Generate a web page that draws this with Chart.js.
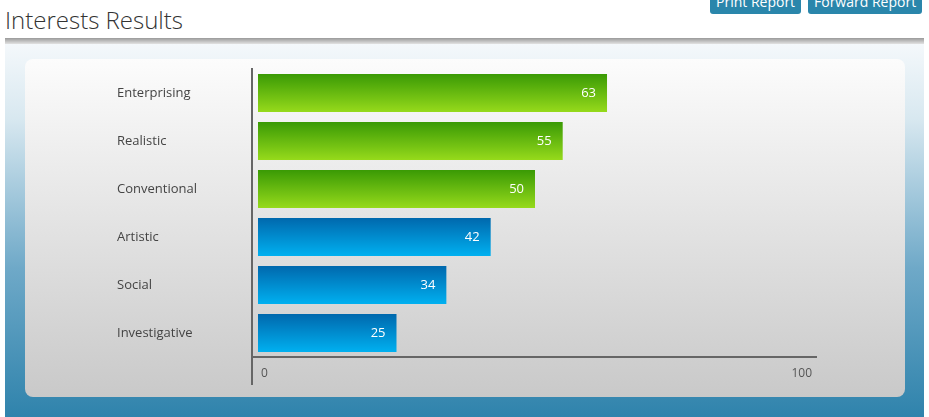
<!DOCTYPE html>
<html>
<head>
<meta charset="utf-8">
<script src="https://cdn.jsdelivr.net/npm/chart.js@4"></script>
<style>
  body { margin: 0; width: 929px; height: 417px; overflow: hidden; background: #fff; font-family: "Open Sans", sans-serif; position: relative; }
  h1 { position: absolute; left: 5px; top: 3px; margin: 0; font-weight: 300; font-size: 24px; color: #333; }
  .btn { position: absolute; top: -8px; height: 22px; background: #2a86ab; color: #fff; font-size: 14px; line-height: 20px; padding: 0 6px; border-radius: 3px; }
  .shade { position: absolute; left: 5px; right: 5px; top: 38px; height: 7px; background: linear-gradient(#9a9a9a, #eee); }
  .panel { position: absolute; left: 5px; right: 5px; top: 44px; bottom: 0; background: linear-gradient(#f4f8fb 0%, #d8e8f0 20%, #6fa9c8 60%, #2f83ac 100%); }
  .card { position: absolute; left: 25px; top: 59px; width: 880px; height: 338px; border-radius: 8px; background: linear-gradient(#fcfcfc, #c9c9c9); }
</style>
</head>
<body>
<h1>Interests Results</h1>
<div class="btn" style="left:710px">Print Report</div>
<div class="btn" style="left:808px">Forward Report</div>
<div class="shade"></div>
<div class="panel"></div>
<div class="card"></div>
<div style="position:absolute;left:25px;top:59px;width:880px;height:338px"><canvas id="chart"></canvas></div>
<script>
const categories = ["Enterprising", "Realistic", "Conventional", "Artistic", "Social", "Investigative"];
const scores = [63, 55, 50, 42, 34, 25];
const groups = ["green", "green", "green", "blue", "blue", "blue"];
const axisTicks = [0, 100];

const palette = {
  green: ["#3a9a05", "#96da1b"],
  blue: ["#0068ad", "#00b0f0"]
};

const decorate = {
  id: "decorate",
  afterDatasetsDraw(c) {
    const ctx = c.ctx, x = c.scales.x, y = c.scales.y;
    const meta = c.getDatasetMeta(0);
    ctx.save();
    ctx.font = "13px 'Open Sans'";
    ctx.textBaseline = "middle";
    meta.data.forEach((bar, i) => {
      ctx.fillStyle = "#fff";
      ctx.textAlign = "right";
      ctx.fillText(scores[i], bar.x - 11, bar.y);
      ctx.fillStyle = "#444";
      ctx.textAlign = "left";
      ctx.fillText(categories[i], 92, y.getPixelForValue(i));
    });
    ctx.strokeStyle = "#666";
    ctx.lineWidth = 2;
    const ax = x.left - 6;
    ctx.beginPath();
    ctx.moveTo(ax, 9); ctx.lineTo(ax, 326);
    ctx.moveTo(ax, y.bottom); ctx.lineTo(x.right + 5, y.bottom);
    ctx.stroke();
    ctx.fillStyle = "#555";
    ctx.font = "12px 'Open Sans'";
    ctx.textAlign = "left";
    ctx.fillText(axisTicks[0], x.getPixelForValue(axisTicks[0]) + 3, y.bottom + 17);
    ctx.textAlign = "right";
    ctx.fillText(axisTicks[1], x.getPixelForValue(axisTicks[1]), y.bottom + 17);
    ctx.restore();
  }
};

new Chart(document.getElementById("chart"), {
  type: "bar",
  data: {
    labels: categories,
    datasets: [{
      data: scores,
      barPercentage: 38 / 48,
      categoryPercentage: 1,
      backgroundColor: (context) => {
        const cols = palette[groups[context.dataIndex]];
        const yScale = context.chart.scales.y;
        if (!yScale) return cols[0];
        const cy = yScale.getPixelForValue(context.dataIndex);
        if (!isFinite(cy)) return cols[0];
        const g = context.chart.ctx.createLinearGradient(0, cy - 19, 0, cy + 19);
        g.addColorStop(0, cols[0]);
        g.addColorStop(1, cols[1]);
        return g;
      }
    }]
  },
  options: {
    indexAxis: "y",
    responsive: true,
    maintainAspectRatio: false,
    animation: false,
    layout: { padding: { left: 233, right: 93, top: 10, bottom: 40 } },
    plugins: { legend: { display: false }, tooltip: { enabled: false } },
    scales: {
      x: { display: false, min: 0, max: 100 },
      y: { display: false }
    }
  },
  plugins: [decorate]
});
</script>
</body>
</html>
